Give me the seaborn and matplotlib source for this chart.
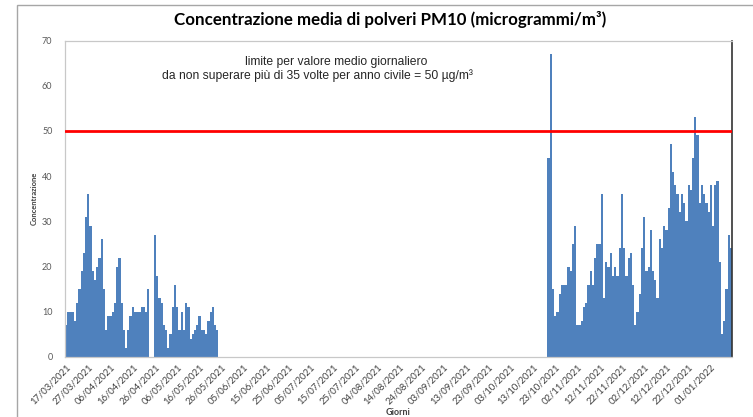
import numpy as np
import pandas as pd
import matplotlib
matplotlib.use("Agg")
import matplotlib.pyplot as plt
from matplotlib.patches import Rectangle
import seaborn as sns

# ---- data ----
axis_start = "2021-03-17"
n_days = 300

seg1_start = "2021-03-17"
seg1_values = [7, 10, 10, 10, 8, 12, 15, 19, 23, 31, 36, 29, 19, 17, 20, 22, 26, 15,
               6, 9, 9, 10, 12, 20, 22, 12, 6, 2, 6, 9, 11, 10, 10, 10, 11, 11, 10, 15]

seg2_start = "2021-04-26"
seg2_values = [27, 18, 13, 12, 7, 6, 2, 5, 11, 16, 11, 6, 10, 6, 12, 11, 4, 5, 6, 7,
               9, 6, 6, 5, 8, 10, 11, 7, 6]

seg3_start = "2021-10-20"
seg3_values = [44, 67, 15, 9, 10, 14, 16, 16, 16, 20, 19, 25, 29, 7, 7, 8, 11, 12, 16,
               19, 16, 22, 25, 25, 36, 13, 21, 20, 23, 18, 20, 18, 24, 36, 24, 18, 22,
               23, 16, 7, 10, 14, 24, 31, 19, 20, 28, 19, 17, 13, 26, 24, 29, 28, 33,
               47, 41, 38, 36, 32, 36, 34, 30, 38, 37, 44, 53, 49, 34, 38, 36, 34, 32,
               38, 29, 38, 39, 21, 5, 8, 15, 27, 24]

limit_value = 50
y_ticks = [0, 10, 20, 30, 40, 50, 60, 70]
tick_step = 10

title = "Concentrazione media di polveri PM10 (microgrammi/m³)"
note_line1 = "limite per valore medio giornaliero"
note_line2 = "da non superare più di 35 volte per anno civile = 50 µg/m³"
x_label = "Giorni"
y_label = "Concentrazione"

# ---- build table ----
all_days = pd.date_range(axis_start, periods=n_days, freq="D")
all_labels = list(all_days.strftime("%d/%m/%Y"))
frames = []
for s, vals in [(seg1_start, seg1_values), (seg2_start, seg2_values), (seg3_start, seg3_values)]:
    d = pd.date_range(s, periods=len(vals), freq="D")
    frames.append(pd.DataFrame({"Giorno": d.strftime("%d/%m/%Y"), "PM10": vals}))
df = pd.concat(frames, ignore_index=True)

# ---- plot ----
sns.set_style("white")
plt.rcParams["font.family"] = ["Lato", "DejaVu Sans"]

W, H = 753, 417
fig = plt.figure(figsize=(W / 100, H / 100), dpi=100)
ax = fig.add_axes([65 / W, 60 / H, 667 / W, 316.5 / H])

sns.barplot(data=df, x="Giorno", y="PM10", order=all_labels, color="#4F81BD",
            saturation=1, width=1.0, errorbar=None, linewidth=0, ax=ax)

ax.axhline(limit_value, color="#FF0000", lw=2, zorder=5)

ax.set_xlim(-0.5, n_days - 0.5)
ax.set_ylim(0, 70)
ax.set_yticks(y_ticks)
ax.set_yticklabels([str(v) for v in y_ticks], fontsize=6.5, color="#595959")
pos = list(range(0, n_days - 9, tick_step))
ax.set_xticks(pos)
ax.set_xticklabels([all_labels[p] for p in pos], rotation=45, ha="right",
                   rotation_mode="anchor", fontsize=6.8, color="#404040")
ax.tick_params(axis="both", length=0)
ax.tick_params(axis="y", pad=9)
ax.tick_params(axis="x", pad=4)

ax.set_xlabel(x_label, fontsize=6.5, fontweight="bold", color="#404040", labelpad=1)
ax.set_ylabel(y_label, fontsize=5.5, fontweight="bold", color="#404040", labelpad=3)

for side in ["left", "bottom", "top"]:
    ax.spines[side].set_color("#C8C8C8")
    ax.spines[side].set_linewidth(0.9)
ax.spines["right"].set_color("#333333")
ax.spines["right"].set_linewidth(1.2)

fig.text(390 / W, 1 - 20 / H, title, ha="center", va="center",
         fontsize=12.2, fontweight="bold", color="#000000")
fig.text(336 / W, 1 - 62 / H, note_line1, ha="center", va="center",
         fontsize=8.7, family=["Liberation Sans", "DejaVu Sans"])
fig.text(317 / W, 1 - 76 / H, note_line2, ha="center", va="center",
         fontsize=8.7, family=["Liberation Sans", "DejaVu Sans"])

fig.patches.append(Rectangle((17 / W, -0.2), 1.5, 1.2 - 5 / H, transform=fig.transFigure,
                             fill=False, edgecolor="#A6A6A6", lw=1.0))

fig.savefig("out.png", dpi=100)
